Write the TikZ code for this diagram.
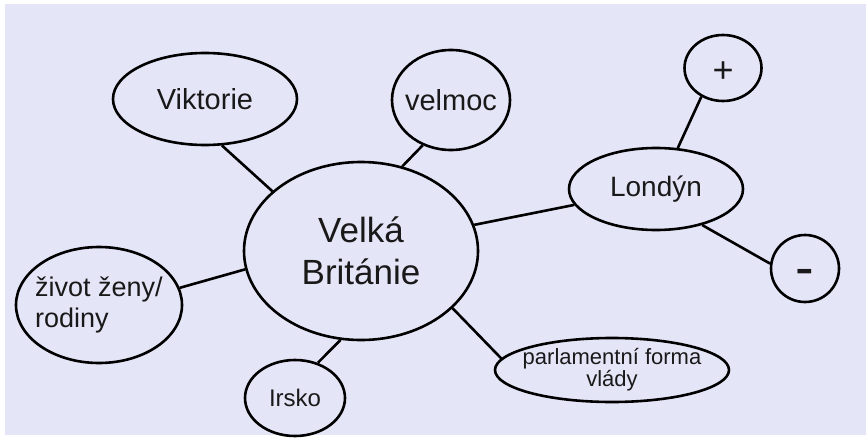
\documentclass[tikz,border=0pt]{standalone}
\usepackage{fontspec}
\setmainfont{Liberation Sans}
\usetikzlibrary{shapes.geometric}
\definecolor{bg}{RGB}{229,229,248}
\definecolor{ink}{RGB}{25,25,25}
\begin{document}
\begin{tikzpicture}[x=1pt,y=-1pt,
  bub/.style={ellipse, draw=black, line width=2.6pt, inner sep=-20pt, text=ink, align=center},
  link/.style={draw=black, line width=2.6pt}]
\fill[white] (0,0) rectangle (866,441);
\useasboundingbox (0,0) rectangle (866,441);
\fill[bg] (5,4) rectangle (866,435);
\node[bub, minimum width=234pt, minimum height=178pt, font=\fontsize{35}{42}\selectfont] (gb) at (361,251) {Velká\\Británie};
\node[bub, minimum width=184pt, minimum height=92pt, font=\fontsize{29}{34}\selectfont] (vik) at (205,99) {Viktorie};
\node[bub, minimum width=118pt, minimum height=100pt, font=\fontsize{29}{34}\selectfont] (vel) at (451,100) {velmoc};
\node[bub, minimum width=174pt, minimum height=82pt, font=\fontsize{28}{33}\selectfont] (lon) at (656,189) {Londýn};
\node[bub, minimum width=77pt, minimum height=66pt, font=\fontsize{36}{40}\selectfont] (plus) at (723,68) {\smash{\raisebox{-14.3pt}{+}}};
\node[bub, minimum width=68pt, minimum height=67pt, font=\fontsize{56}{60}\selectfont] (minus) at (805,268.5) {\smash{\raisebox{-17.7pt}{-}}};
\node[bub, align=left, minimum width=166pt, minimum height=116pt, font=\fontsize{27}{31}\selectfont] (zivot) at (99,305) {život ženy/\\rodiny};
\node[bub, minimum width=100pt, minimum height=76pt, font=\fontsize{24}{28}\selectfont] (irsko) at (295,398) {Irsko};
\node[bub, minimum width=234pt, minimum height=64pt, font=\fontsize{22}{20}\selectfont] (parl) at (612,370) {parlamentní forma\\vlády};
\draw[link] (vik.-70) -- (gb.146);
\draw[link] (vel.-122) -- (gb.64);
\draw[link] (gb.13) -- (lon.191);
\draw[link] (lon.62) -- (plus.-127);
\draw[link] (lon.-38) -- (minus.172);
\draw[link] (zivot.12) -- (gb.-171);
\draw[link] (irsko.57) -- (gb.-103);
\draw[link] (gb.-32) -- (parl.174);
\end{tikzpicture}
\end{document}
